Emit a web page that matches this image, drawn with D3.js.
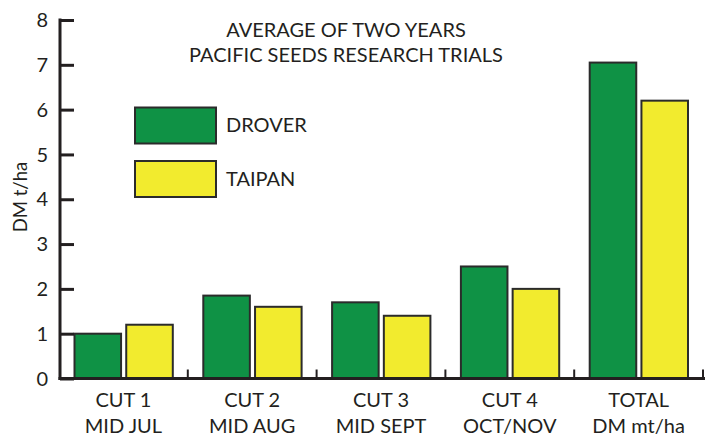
<!DOCTYPE html>
<html>
<head>
<meta charset="utf-8">
<script src="https://cdn.jsdelivr.net/npm/d3@7"></script>
<style>
  html, body { margin: 0; padding: 0; background: #fff; }
  svg { display: block; }
  text { font-family: Lato, "Open Sans", sans-serif; fill: #231f20; }
</style>
</head>
<body>
<svg id="chart" width="705" height="437"></svg>
<script>
const categories = ["CUT 1\nMID JUL", "CUT 2\nMID AUG", "CUT 3\nMID SEPT", "CUT 4\nOCT/NOV", "TOTAL\nDM mt/ha"];
const seriesNames = ["DROVER", "TAIPAN"];
const droverValues = [1.0, 1.85, 1.7, 2.5, 7.05];
const taipanValues = [1.2, 1.6, 1.4, 2.0, 6.2];
const yTicks = [0, 1, 2, 3, 4, 5, 6, 7, 8];
const titleLines = ["AVERAGE OF TWO YEARS", "PACIFIC SEEDS RESEARCH TRIALS"];
const yLabel = "DM t/ha";
const colors = ["#0f9245", "#f2eb2e"];

const svg = d3.select("#chart");
const values = [droverValues, taipanValues];

const x0 = d3.scaleBand().domain(categories).range([59, 703]).padding(0);
const x1 = d3.scaleBand().domain(seriesNames).range([15.5, x0.bandwidth() - 15]).paddingInner(0.1);
const y = d3.scaleLinear().domain([0, 8]).range([378.5, 20]);

// bars
const groups = svg.append("g").selectAll("g").data(categories).join("g")
  .attr("transform", d => `translate(${x0(d)},0)`);
groups.selectAll("rect").data((d, i) => seriesNames.map((s, j) => ({ s, v: values[j][i], j })))
  .join("rect")
  .attr("x", d => x1(d.s))
  .attr("width", x1.bandwidth())
  .attr("y", d => y(d.v))
  .attr("height", d => y(0) - y(d.v))
  .attr("fill", d => colors[d.j])
  .attr("stroke", "#2b2b2b")
  .attr("stroke-width", 2);

// y axis
const yAxis = d3.axisRight(y).tickValues(yTicks).tickSize(14).tickFormat("");
const gy = svg.append("g").attr("transform", "translate(60,0)").call(yAxis);
gy.select(".domain").remove();
gy.selectAll(".tick line").attr("stroke", "#231f20").attr("stroke-width", 3);
svg.append("line").attr("x1", 60).attr("x2", 60).attr("y1", y(8) - 1.5).attr("y2", y(0) + 1.5)
  .attr("stroke", "#231f20").attr("stroke-width", 3);
svg.append("g").selectAll("text").data(yTicks).join("text")
  .attr("x", 48).attr("y", d => y(d)).attr("dy", "0.36em")
  .attr("text-anchor", "end").attr("font-size", 20).text(d => d);

// x axis
svg.append("line").attr("x1", 58.5).attr("x2", 705).attr("y1", y(0)).attr("y2", y(0))
  .attr("stroke", "#231f20").attr("stroke-width", 3);
const boundaries = categories.slice(1).map(c => x0(c)).concat([x0.range()[1]]);
svg.append("g").selectAll("line").data(boundaries).join("line")
  .attr("x1", d => d).attr("x2", d => d).attr("y1", y(0)).attr("y2", y(0) - 9)
  .attr("stroke", "#231f20").attr("stroke-width", 2);

const xl = svg.append("g").selectAll("text").data(categories).join("text")
  .attr("text-anchor", "middle").attr("font-size", 20)
  .attr("transform", d => `translate(${x0(d) + x0.bandwidth() / 2},0)`);
xl.selectAll("tspan").data(d => d.split("\n")).join("tspan")
  .attr("x", 0).attr("y", (d, i) => i === 0 ? 407 : 432.5).text(d => d);

// y label
svg.append("text").attr("transform", "translate(27,197) rotate(-90)")
  .attr("text-anchor", "middle").attr("font-size", 18.5).text(yLabel);

// title
svg.append("g").selectAll("text").data(titleLines).join("text")
  .attr("x", 346).attr("y", (d, i) => 37 + i * 25)
  .attr("text-anchor", "middle").attr("font-size", 20).text(d => d);

// legend
const legend = svg.append("g").selectAll("g").data(seriesNames).join("g")
  .attr("transform", (d, i) => `translate(135,${107.5 + i * 53.5})`);
legend.append("rect").attr("width", 81).attr("height", 36)
  .attr("fill", (d, i) => colors[i]).attr("stroke", "#2b2b2b").attr("stroke-width", 2);
legend.append("text").attr("x", 91).attr("y", 24.5).attr("font-size", 20).text(d => d);
</script>
</body>
</html>
